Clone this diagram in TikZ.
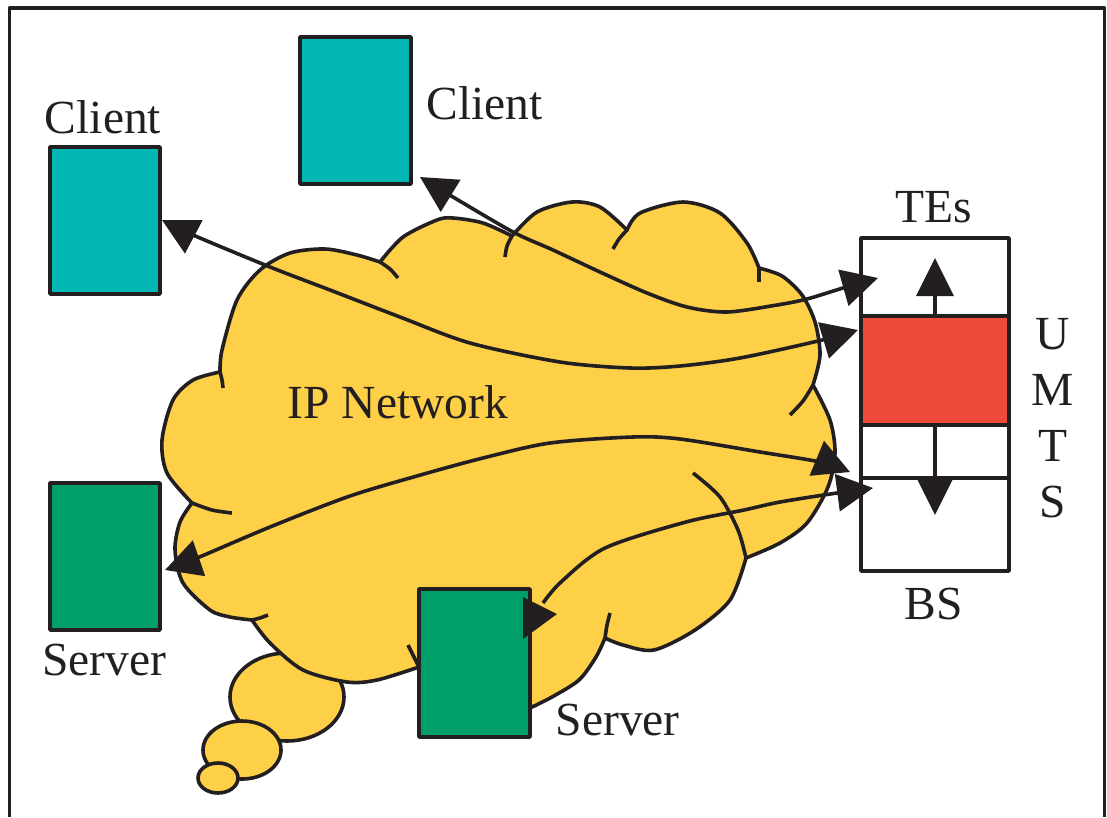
\documentclass[tikz,border=0pt]{standalone}
\usepackage{fontspec}
\setmainfont{Liberation Serif}
\usetikzlibrary{arrows.meta}
\definecolor{tealc}{HTML}{00B7B3}
\definecolor{greenc}{HTML}{009E6A}
\definecolor{redc}{HTML}{F04B3A}
\definecolor{cloudc}{HTML}{FDD047}
\definecolor{ink}{HTML}{231F20}
\tikzset{
  clientbox/.style={draw=ink, fill=tealc, minimum width=110pt, minimum height=147pt, inner sep=0pt},
  serverbox/.style={draw=ink, fill=greenc, minimum width=111pt, minimum height=148pt, inner sep=0pt},
  lbl/.style={font=\fontsize{47.5}{50}\selectfont, text=ink, inner sep=0pt},
  cloudshape/.style={draw=ink, fill=cloudc},
  cloudtail/.style={draw=ink},
  conn/.style={draw=ink, {Triangle[length=36pt,width=37pt]}-{Triangle[length=36pt,width=37pt]}},
  connend/.style={draw=ink, -{Triangle[length=36pt,width=37pt]}},
  vertarrow/.style={draw=ink, -{Triangle[length=38pt,width=37pt]}},
}
\begin{document}
\begin{tikzpicture}[x=1pt, y=-1pt, line width=3.6pt, line join=round]
\useasboundingbox (0,0) rectangle (1107,817);
% frame
\draw[ink] (9.5,817) -- (9.5,8) -- (1104.5,8) -- (1104.5,817);

% big thought bubble (under the cloud)
\draw[cloudshape] (287,697) ellipse [x radius=57, y radius=44];

% cloud
\filldraw[cloudshape]
 plot[smooth] coordinates {(220,372) (222,350) (237,300) (260,270) (290,253) (325,249) (357,255) (380,262)}
 -- plot[smooth] coordinates {(380,262) (403,237) (437,220) (453,218) (483,223) (512,236)}
 -- plot[smooth] coordinates {(512,236) (537,212) (572,202) (600,207) (627,230)}
 -- plot[smooth] coordinates {(627,230) (640,213) (683,202) (720,213) (747,243) (759,268)}
 -- plot[smooth] coordinates {(759,268) (782,276) (802,295) (815,322) (820,355) (813,385)}
 -- plot[smooth] coordinates {(813,385) (830,420) (835,453) (828,487) (807,523) (780,543) (746,558)}
 -- plot[smooth] coordinates {(746,558) (730,600) (695,630) (654,650) (623,645) (605,638)}
 -- plot[smooth] coordinates {(605,638) (596,657) (579,680) (552,697) (530,708)}
 -- (419,667)
 -- plot[smooth] coordinates {(419,667) (377,680) (347,682) (303,670) (270,643) (252,620)}
 -- plot[smooth] coordinates {(252,620) (230,617) (210,610) (183,583) (175,550) (180,522) (192,503)}
 -- plot[smooth] coordinates {(192,503) (167,473) (162,440) (173,400) (193,380) (220,372)}
 -- cycle;
% tails of the cloud bumps
\draw[cloudtail] plot[smooth] coordinates {(220,372) (222,380) (223,388)};
\draw[cloudtail] plot[smooth] coordinates {(380,262) (390,269) (398,278)};
\draw[cloudtail] plot[smooth] coordinates {(512,236) (507,246) (505,257)};
\draw[cloudtail] plot[smooth] coordinates {(627,230) (619,239) (613,249)};
\draw[cloudtail] plot[smooth] coordinates {(759,268) (759,275) (759,282)};
\draw[cloudtail] plot[smooth] coordinates {(813,385) (803,401) (790,415)};
\draw[cloudtail] plot[smooth] coordinates {(746,558) (738,530) (720,497) (693,473)};
\draw[cloudtail] plot[smooth] coordinates {(605,638) (607,625) (610,613)};
\draw[cloudtail] plot[smooth] coordinates {(419,667) (413,655) (408,645)};
\draw[cloudtail] plot[smooth] coordinates {(252,620) (260,618) (268,615)};
\draw[cloudtail] plot[smooth] coordinates {(192,503) (212,510) (232,513)};

% smaller thought bubbles
\draw[cloudshape] (242,750) ellipse [x radius=39, y radius=29];
\draw[cloudshape] (218,778) ellipse [x radius=20, y radius=15];

\node[lbl, anchor=base west] (ipnet) at (286,418) {IP Network};

% boxes
\node[clientbox] (client1) at (105,220.5) {};
\node[clientbox, minimum width=111pt] (client2) at (355.5,110.5) {};
\node[serverbox, minimum width=110pt, minimum height=147pt] (server1) at (105,556.5) {};
\node[serverbox] (server2) at (474.5,663) {};

% UMTS column
\node[draw=ink, fill=white, minimum width=148pt, minimum height=333pt, inner sep=0pt] (umts) at (935,404.5) {};
\node[draw=ink, fill=redc, minimum width=148pt, minimum height=109pt, inner sep=0pt] (red) at (935,370.5) {};
\coordinate (bsl) at (861,478);
\coordinate (bsr) at (1009,478);
\draw[ink] (bsl) -- (bsr);
\coordinate (upTip) at (935,258);
\coordinate (downTip) at (935,515);
\draw[vertarrow] (red.north) -- (upTip);
\draw[vertarrow] (red.south) -- (downTip);

% connectors
\coordinate (c1a) at (420,177);
\coordinate (c1b) at (878,278);
\draw[conn] plot[smooth] coordinates {(c1a) (453,197) (513,232) (553,250) (600,272) (647,293) (687,307) (727,312) (777,305) (807,299) (843,288) (c1b)};

\coordinate (c2a) at (162,220);
\coordinate (c2b) at (858,330);
\draw[conn] plot[smooth] coordinates {(c2a) (193,235) (270,267) (330,290) (400,317) (470,343) (560,362) (630,368) (680,366) (740,358) (818,341) (c2b)};

\coordinate (c3a) at (165,570);
\coordinate (c3b) at (850,472);
\draw[conn] plot[smooth] coordinates {(c3a) (197,558) (270,527) (350,496) (424,474) (483,458) (550,443) (633,437) (680,439) (760,452) (820,462) (c3b)};

\coordinate (c4a) at (543,603);
\coordinate (c4b) at (873,488);
\draw[connend] plot[smooth] coordinates {(c4a) (561,582) (605,548) (686,522) (744,510) (780,502) (837,493) (c4b)};
\fill[ink] (523,597) -- (557,614) -- (523,639) -- cycle;

% labels
\node[lbl, anchor=base] (lclient1) at (103,133) {Client};
\node[lbl, anchor=base west] (lclient2) at (425,119) {Client};
\node[lbl, anchor=base] (ltes) at (934,222) {TEs};
\node[lbl, anchor=base] (lbs) at (934,619) {BS};
\node[lbl, anchor=base] (lu) at (1053,349) {U};
\node[lbl, anchor=base] (lm) at (1053,405) {M};
\node[lbl, anchor=base] (lt) at (1053,461) {T};
\node[lbl, anchor=base] (ls) at (1053,517) {S};
\node[lbl, anchor=base] (lserver1) at (104,675) {Server};
\node[lbl, anchor=base west] (lserver2) at (554,735) {Server};
\end{tikzpicture}
\end{document}
